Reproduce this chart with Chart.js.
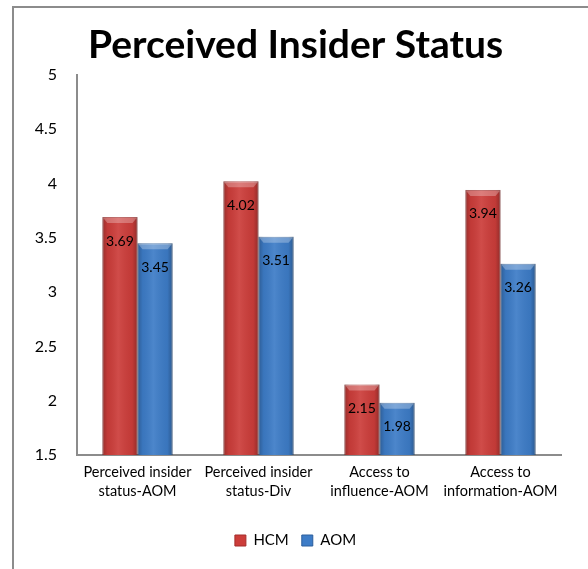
<!DOCTYPE html>
<html>
<head>
<meta charset="utf-8">
<script src="https://cdn.jsdelivr.net/npm/chart.js@4"></script>
<style>
  html, body { margin: 0; padding: 0; background: #fff; }
  #wrap { position: relative; width: 588px; height: 569px; overflow: hidden; }
  #frame { position: absolute; left: 12px; top: 6px; width: 700px; height: 700px; border: 2px solid #8c8c8c; box-sizing: border-box; }
  canvas { position: absolute; left: 0; top: 0; }
</style>
</head>
<body>
<div id="wrap">
  <div id="frame"></div>
  <canvas id="chart" width="588" height="569"></canvas>
</div>
<script>
// Chart data
const categories = [
    ['Perceived insider', 'status-AOM'],
    ['Perceived insider', 'status-Div'],
    ['Access to', 'influence-AOM'],
    ['Access to', 'information-AOM']
];
const hcmValues = [3.69, 4.02, 2.15, 3.94];
const aomValues = [3.45, 3.51, 1.98, 3.26];
const seriesNames = ['HCM', 'AOM'];
const yTicks = [1.5, 2, 2.5, 3, 3.5, 4, 4.5, 5];

const FONT = 'Lato, "Open Sans", sans-serif';

// shade each bar a bit so it looks like the old 3D office bars
const barShade = {
    id: 'barShade',
    afterDatasetsDraw(chart) {
        const ctx = chart.ctx;
        const area = chart.chartArea;
        chart.data.datasets.forEach((ds, i) => {
            const meta = chart.getDatasetMeta(i);
            meta.data.forEach(bar => {
                const left = bar.x - bar.width / 2;
                const w = bar.width;
                // bars start at 0, so clip them to the plot area
                const bottom = Math.min(bar.base, area.bottom);
                const h = bottom - bar.y;
                const g = ctx.createLinearGradient(left, 0, left + w, 0);
                g.addColorStop(0, 'rgba(0,0,0,0.25)');
                g.addColorStop(0.15, 'rgba(0,0,0,0.05)');
                g.addColorStop(0.45, 'rgba(255,255,255,0.08)');
                g.addColorStop(0.85, 'rgba(0,0,0,0.05)');
                g.addColorStop(1, 'rgba(0,0,0,0.28)');
                ctx.save();
                ctx.fillStyle = g;
                ctx.fillRect(left, bar.y, w, h);
                // top bevel
                ctx.fillStyle = 'rgba(255,255,255,0.28)';
                ctx.beginPath();
                ctx.moveTo(left, bar.y);
                ctx.lineTo(left + w, bar.y);
                ctx.lineTo(left + w - 5, bar.y + 6);
                ctx.lineTo(left + 5, bar.y + 6);
                ctx.closePath();
                ctx.fill();
                ctx.restore();
            });
        });
    }
};

// value labels just inside the top of each bar
const valueLabels = {
    id: 'valueLabels',
    afterDatasetsDraw(chart) {
        const ctx = chart.ctx;
        ctx.save();
        ctx.font = '14px ' + FONT;
        ctx.fillStyle = '#000';
        ctx.textAlign = 'center';
        ctx.textBaseline = 'middle';
        chart.data.datasets.forEach((ds, i) => {
            chart.getDatasetMeta(i).data.forEach((bar, j) => {
                ctx.fillText(ds.data[j].toFixed(2), bar.x, bar.y + 24);
            });
        });
        ctx.restore();
    }
};

new Chart(document.getElementById('chart'), {
    type: 'bar',
    data: {
        labels: categories,
        datasets: [
            {
                label: seriesNames[0],
                data: hcmValues,
                backgroundColor: '#cc3d3a',
                borderColor: '#a32d2b',
                borderWidth: 1,
                categoryPercentage: 0.58,
                barPercentage: 1
            },
            {
                label: seriesNames[1],
                data: aomValues,
                backgroundColor: '#3d7cc7',
                borderColor: '#2c5e9c',
                borderWidth: 1,
                categoryPercentage: 0.58,
                barPercentage: 1
            }
        ]
    },
    options: {
        responsive: false,
        animation: false,
        layout: {
            padding: { top: 0, right: 27, bottom: 11, left: 30 }
        },
        plugins: {
            title: {
                display: true,
                text: 'Perceived Insider Status',
                color: '#000',
                font: { family: FONT, size: 39, weight: 'bold', lineHeight: 1.2 },
                padding: { top: 22, bottom: 6 }
            },
            legend: {
                position: 'bottom',
                labels: {
                    color: '#000',
                    font: { family: FONT, size: 15 },
                    boxWidth: 11,
                    boxHeight: 11,
                    padding: 13
                }
            },
            tooltip: { enabled: false }
        },
        scales: {
            x: {
                grid: { display: false, drawTicks: false },
                border: { display: true, color: '#8c8c8c', width: 2 },
                ticks: {
                    color: '#000',
                    font: { family: FONT, size: 14.5, lineHeight: 1.3 },
                    padding: 8,
                    maxRotation: 0,
                    autoSkip: false
                },
                afterFit(scale) { scale.height = 65; }
            },
            y: {
                min: 1.5,
                max: 5,
                afterBuildTicks(scale) {
                    scale.ticks = yTicks.map(v => ({ value: v }));
                },
                grid: { display: false, drawTicks: false },
                border: { display: true, color: '#8c8c8c', width: 2 },
                ticks: {
                    color: '#000',
                    font: { family: FONT, size: 16 },
                    padding: 20,
                    callback: value => String(value)
                },
                afterFit(scale) { scale.width = 47; }
            }
        }
    },
    plugins: [barShade, valueLabels]
});
</script>
</body>
</html>
